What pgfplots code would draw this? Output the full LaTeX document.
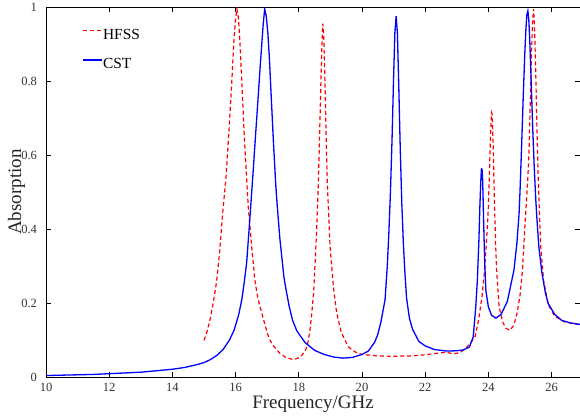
\documentclass[border=0pt]{standalone}
\usepackage{pgfplots}
\pgfplotsset{compat=1.18}
\usepackage{fontspec}
\setmainfont{Liberation Serif}
\pgfplotsset{legend image code/.code={\draw[#1] (0pt,0.33em) -- (19pt,0.33em);}}
\begin{document}
\begin{tikzpicture}
\begin{axis}[
  scale only axis,
  width=533.4pt, height=370pt,
  xmin=10, xmax=26.9, ymin=0, ymax=1,
  xtick={10,12,...,26},
  ytick={0,0.2,0.4,0.6,0.8,1},
  yticklabels={0,0.2,0.4,0.6,0.8,1},
  tick align=inside,
  major tick length=5pt,
  axis line style={line width=0.8pt},
  tick style={line width=0.8pt, black},
  /pgf/number format/assume math mode=true,
  ticklabel style={font=\fontsize{12.5}{14}\selectfont, text=black!80},
  xticklabel style={yshift=-2.5pt},
  yticklabel style={xshift=-5.5pt},
  xlabel={Frequency/GHz},
  ylabel={Absorption},
  label style={font=\fontsize{19}{22}\selectfont, text=black!85},
  xlabel style={at={(axis description cs:0.5,0)}, anchor=base, yshift=-30.7pt},
  ylabel style={at={(axis description cs:0,0.5)}, anchor=center, yshift=29.5pt},
  legend style={draw=none, fill=none, at={(0.0688,0.9416)}, anchor=north west,
    font=\fontsize{15.4}{17}\selectfont, row sep=19pt, inner sep=0pt, outer sep=0pt,
    nodes={inner sep=0pt, text height=10.4pt, text depth=0pt}},
  legend cell align=left,
]
\coordinate (bl) at (rel axis cs:0,0);
\coordinate (tr) at (rel axis cs:1,1);
\addplot[red, line width=1.2pt, dash pattern=on 4pt off 2.8pt] coordinates {
(15.0,0.100)(15.1,0.125)(15.2,0.160)(15.3,0.205)(15.4,0.260)(15.5,0.345)
(15.59,0.443)(15.7,0.545)(15.8,0.680)(15.88,0.800)(15.94,0.900)(15.99,0.960)
(16.04,0.995)(16.09,0.970)(16.14,0.900)(16.2,0.790)(16.27,0.660)(16.35,0.535)
(16.4,0.460)(16.51,0.352)(16.61,0.262)(16.7,0.215)(16.83,0.173)(17.0,0.120)
(17.09,0.100)(17.2,0.085)(17.4,0.065)(17.6,0.053)(17.83,0.048)(18.0,0.053)
(18.1,0.060)(18.2,0.072)(18.27,0.085)(18.35,0.125)(18.41,0.173)(18.47,0.230)
(18.54,0.352)(18.58,0.430)(18.62,0.530)(18.66,0.660)(18.7,0.800)(18.73,0.890)
(18.76,0.955)(18.79,0.920)(18.83,0.790)(18.87,0.630)(18.9,0.530)(18.95,0.430)
(18.99,0.352)(19.1,0.240)(19.2,0.173)(19.35,0.120)(19.57,0.082)(19.8,0.068)
(20.0,0.062)(20.5,0.058)(21.0,0.057)(21.5,0.058)(22.0,0.061)(22.36,0.065)
(22.68,0.068)(22.85,0.064)(23.0,0.065)(23.15,0.070)(23.3,0.080)(23.45,0.095)
(23.58,0.110)(23.7,0.160)(23.8,0.220)(23.87,0.280)(23.95,0.380)(24.0,0.460)
(24.04,0.570)(24.07,0.660)(24.1,0.715)(24.12,0.710)(24.15,0.630)(24.19,0.480)
(24.23,0.360)(24.26,0.290)(24.34,0.190)(24.45,0.150)(24.55,0.133)(24.68,0.127)
(24.8,0.140)(24.9,0.170)(25.0,0.220)(25.08,0.290)(25.15,0.400)(25.2,0.470)
(25.25,0.540)(25.29,0.620)(25.33,0.760)(25.37,0.890)(25.4,0.960)(25.43,0.995)
(25.46,0.950)(25.5,0.820)(25.54,0.660)(25.58,0.530)(25.62,0.430)(25.66,0.350)
(25.75,0.260)(25.9,0.195)(26.1,0.165)(26.4,0.150)(26.7,0.145)(26.9,0.142)
};
\addlegendentry{HFSS}
\addplot[blue, line width=1.3pt] coordinates {
(10.0,0.005)(10.5,0.006)(11.0,0.007)(11.5,0.008)(12.0,0.010)(12.5,0.012)
(13.0,0.014)(13.5,0.018)(14.0,0.022)(14.4,0.027)(14.8,0.035)(15.0,0.040)
(15.2,0.048)(15.4,0.059)(15.6,0.075)(15.8,0.100)(15.95,0.127)(16.1,0.170)
(16.2,0.212)(16.27,0.255)(16.35,0.310)(16.46,0.440)(16.55,0.550)(16.62,0.640)
(16.7,0.740)(16.77,0.830)(16.82,0.890)(16.87,0.950)(16.92,0.995)(16.97,0.975)
(17.02,0.930)(17.07,0.860)(17.12,0.770)(17.2,0.630)(17.27,0.520)(17.32,0.460)
(17.4,0.375)(17.53,0.270)(17.6,0.235)(17.7,0.190)(17.8,0.155)(17.93,0.127)
(18.04,0.113)(18.2,0.094)(18.5,0.073)(18.8,0.062)(19.1,0.055)(19.4,0.052)
(19.7,0.054)(20.0,0.062)(20.2,0.071)(20.4,0.095)(20.5,0.116)(20.6,0.150)
(20.73,0.210)(20.8,0.300)(20.85,0.390)(20.9,0.500)(20.95,0.640)(21.0,0.810)
(21.04,0.930)(21.08,0.975)(21.12,0.930)(21.16,0.800)(21.21,0.620)(21.26,0.470)
(21.31,0.360)(21.36,0.280)(21.41,0.215)(21.5,0.160)(21.6,0.130)(21.8,0.097)
(22.0,0.085)(22.3,0.075)(22.7,0.071)(23.0,0.072)(23.2,0.074)(23.4,0.082)
(23.52,0.109)(23.6,0.190)(23.65,0.260)(23.7,0.370)(23.73,0.460)(23.76,0.530)
(23.78,0.563)(23.8,0.562)(23.82,0.530)(23.85,0.420)(23.88,0.320)(23.92,0.235)
(24.0,0.190)(24.1,0.168)(24.24,0.160)(24.4,0.170)(24.6,0.205)(24.81,0.290)
(24.9,0.360)(24.97,0.440)(25.0,0.500)(25.05,0.620)(25.1,0.750)(25.15,0.870)
(25.19,0.945)(25.22,0.980)(25.25,0.990)(25.28,0.965)(25.31,0.910)(25.35,0.810)
(25.4,0.680)(25.45,0.570)(25.5,0.480)(25.55,0.410)(25.6,0.350)(25.69,0.285)
(25.8,0.230)(25.89,0.200)(26.1,0.170)(26.32,0.154)(26.6,0.147)(26.9,0.143)
};
\addlegendentry{CST}
\end{axis}
\pgfresetboundingbox
\path[use as bounding box] ([xshift=-46pt,yshift=-40pt]bl) rectangle ([yshift=7pt]tr);
\end{tikzpicture}
\end{document}
